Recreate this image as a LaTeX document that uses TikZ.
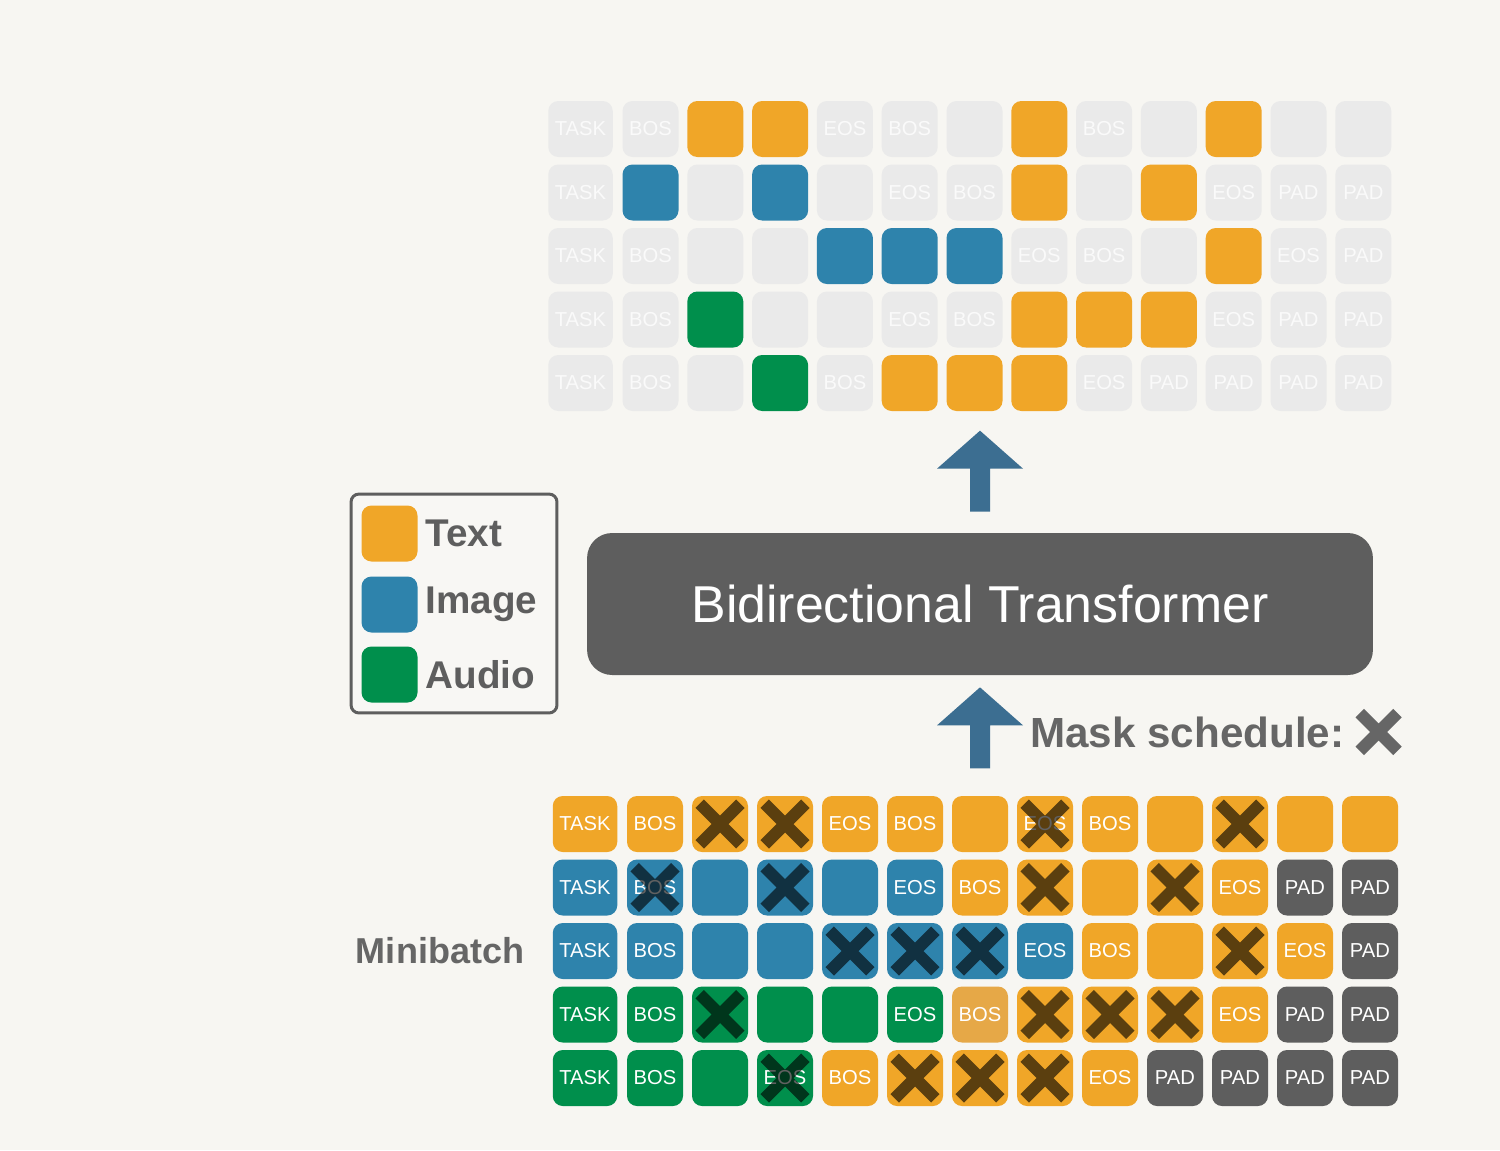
\documentclass[tikz,border=0pt]{standalone}
\usepackage{fontspec}
\setmainfont{Liberation Sans}
\usepackage{tikz}
\usetikzlibrary{positioning, calc}
\definecolor{bgcolor}{HTML}{F7F6F2}
\definecolor{txtcolor}{HTML}{F0A628}
\definecolor{imgcolor}{HTML}{2E83AC}
\definecolor{audcolor}{HTML}{008F4C}
\definecolor{padcolor}{HTML}{5E5E5E}
\definecolor{palecolor}{HTML}{E6A847}
\definecolor{emptycolor}{HTML}{EAEAEA}
\definecolor{ghostcolor}{HTML}{FAFAFA}
\definecolor{arrowcolor}{HTML}{3C6E91}
\definecolor{labelcolor}{HTML}{666666}
\colorlet{cl-t}{txtcolor}
\colorlet{cl-i}{imgcolor}
\colorlet{cl-a}{audcolor}
\colorlet{cl-p}{padcolor}
\colorlet{cl-q}{palecolor}

\newcommand{\blockarrow}[1]{%
  \fill[arrowcolor] (#1) ++(-10,0) -- ++(0,-43) -- ++(-33,0) -- ++(43,-38)
    -- ++(43,38) -- ++(-33,0) -- ++(0,43) -- cycle;}

\begin{document}
\begin{tikzpicture}[x=0.02cm, y=-0.02cm, every node/.style={font=\fontsize{11.5}{13}\selectfont}]
\tikzstyle{cell}=[rounded corners=0.2cm, minimum width=1.12cm, minimum height=1.12cm, inner sep=0pt, text=white]
\tikzstyle{xmark}=[line width=0.24cm, black, opacity=0.62]
\tikzstyle{lbl}=[inner sep=0pt, text=labelcolor, font=\bfseries\fontsize{22}{26}\selectfont]
\tikzstyle{tfbox}=[fill=padcolor, rounded corners=0.5cm, minimum width=15.72cm, minimum height=2.84cm, text=white, font=\fontsize{29.5}{33}\selectfont]

\fill[bgcolor] (0,0) rectangle (1500,1150);
\useasboundingbox (0,0) rectangle (1500,1150);

% minibatch (bottom) and prediction (top)
\foreach \row [count=\r] in {
  {t/TASK/0, t/BOS/0, t//1, t//1, t/EOS/0, t/BOS/0, t//0, t/EOS/1, t/BOS/0, t//0, t//1, t//0, t//0},
  {i/TASK/0, i/BOS/1, i//0, i//1, i//0, i/EOS/0, t/BOS/0, t//1, t//0, t//1, t/EOS/0, p/PAD/0, p/PAD/0},
  {i/TASK/0, i/BOS/0, i//0, i//0, i//1, i//1, i//1, i/EOS/0, t/BOS/0, t//0, t//1, t/EOS/0, p/PAD/0},
  {a/TASK/0, a/BOS/0, a//1, a//0, a//0, a/EOS/0, q/BOS/0, t//1, t//1, t//1, t/EOS/0, p/PAD/0, p/PAD/0},
  {a/TASK/0, a/BOS/0, a//0, a/EOS/1, t/BOS/0, t//1, t//1, t//1, t/EOS/0, p/PAD/0, p/PAD/0, p/PAD/0, p/PAD/0}} {
  \foreach \c/\lab/\m [count=\k] in \row {
    \pgfmathsetmacro\cellw{\k==1 ? 1.29 : 1.12}
    \pgfmathsetmacro\xin{\k==1 ? 585 : 655+65*(\k-2)}
    \pgfmathsetmacro\yin{824+63.5*(\r-1)}
    \pgfmathsetmacro\xout{\k==1 ? 580.5 : 650.5+64.8*(\k-2)}
    \pgfmathsetmacro\yout{129+63.5*(\r-1)}
    \node[cell, minimum width=\cellw cm, fill=cl-\c] (in-\r-\k) at (\xin,\yin) {\lab};
    \ifnum\m=1\relax
      \draw[xmark] ([shift={(8,8)}]in-\r-\k.north west) -- ([shift={(-8,-8)}]in-\r-\k.south east)
        ([shift={(8,-8)}]in-\r-\k.south west) -- ([shift={(-8,8)}]in-\r-\k.north east);
      \node[cell, minimum width=\cellw cm, fill=cl-\c] (out-\r-\k) at (\xout,\yout) {};
    \else
      \node[cell, minimum width=\cellw cm, fill=emptycolor, text=ghostcolor] (out-\r-\k) at (\xout,\yout) {\lab};
    \fi
  }
}

\node[lbl, font=\bfseries\fontsize{20.5}{24}\selectfont, left=0.56cm of in-3-1] (batch) {Minibatch};

% model
\node[tfbox] (tf) at (980,604) {Bidirectional Transformer};
\coordinate (arr-out) at ($(tf.north)+(0,-21)$);
\coordinate (arr-in) at ($(tf.south)+(0,93)$);
\blockarrow{arr-out}
\blockarrow{arr-in}

\node[lbl, font=\bfseries\fontsize{24}{28}\selectfont, anchor=west] (msk) at (1030,732) {Mask schedule:};
\node[inner sep=0pt, minimum size=0.9cm, right=0.22cm of msk] (mskx) {};
\draw[line width=0.24cm, labelcolor] ([shift={(4,4)}]mskx.north west) -- ([shift={(-4,-4)}]mskx.south east)
  ([shift={(4,-4)}]mskx.south west) -- ([shift={(-4,4)}]mskx.north east);

% legend
\node[draw=padcolor, line width=1.7pt, rounded corners=0.16cm, fill=bgcolor!85!white, minimum width=4.12cm, minimum height=4.38cm] (legend) at (454,603.5) {};
\node[cell, fill=txtcolor] (leg-t) at (389.5,533.5) {};
\node[cell, fill=imgcolor] (leg-i) at (389.5,604.5) {};
\node[cell, fill=audcolor] (leg-a) at (389.5,674.5) {};
\node[lbl, text=padcolor, right=0.15cm of leg-t] {Text};
\node[lbl, text=padcolor, right=0.15cm of leg-i] {Image};
\node[lbl, text=padcolor, right=0.15cm of leg-a] {Audio};
\end{tikzpicture}
\end{document}
